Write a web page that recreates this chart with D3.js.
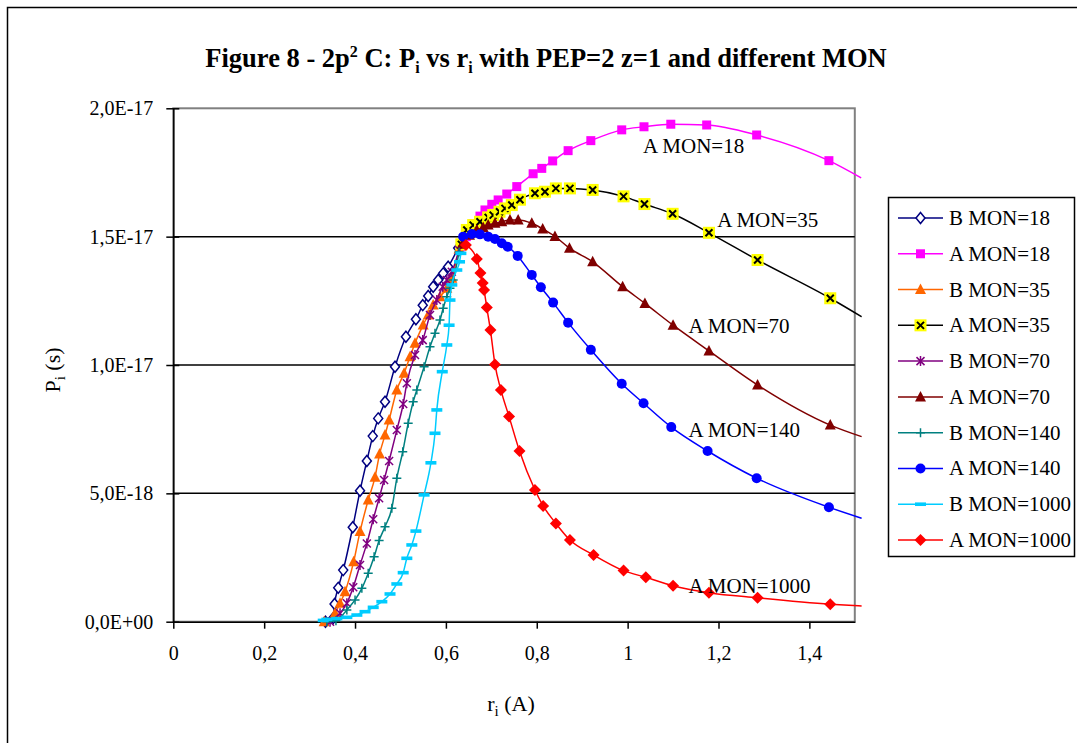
<!DOCTYPE html>
<html>
<head>
<meta charset="utf-8">
<script src="https://cdn.jsdelivr.net/npm/d3@7"></script>
<style>
  body { margin: 0; background: #fff; }
  svg { display: block; font-family: "Liberation Serif", "Times New Roman", serif; }
</style>
</head>
<body>
<svg id="chart" width="1077" height="743"></svg>
<script>
// values of P are stored in units of 1E-17 s
const UNIT = 1e-17;

const xTicks = [0, 0.2, 0.4, 0.6, 0.8, 1, 1.2, 1.4];
const yTicks = [0, 0.5, 1, 1.5, 2];

const bMon18 = [[0.335,0],[0.352,0.014],[0.355,0.069],[0.363,0.132],[0.374,0.201],[0.395,0.368],[0.411,0.510],[0.426,0.626],[0.439,0.723],[0.451,0.792],[0.466,0.857],[0.488,0.993],[0.512,1.110],[0.534,1.178],[0.549,1.233],[0.561,1.269],[0.572,1.305],[0.583,1.331],[0.594,1.357],[0.605,1.383],[0.627,1.456]];
const aMon18 = [[0.632,1.46],[0.645,1.50],[0.660,1.55],[0.675,1.580],[0.686,1.604],[0.701,1.626],[0.715,1.643],[0.734,1.666],[0.756,1.695],[0.792,1.745],[0.811,1.766],[0.835,1.795],[0.869,1.835],[0.919,1.874],[0.987,1.916],[1.036,1.928],[1.095,1.938],[1.174,1.935],[1.284,1.896],[1.443,1.796],[1.514,1.729]];
const bMon35 = [[0.332,0],[0.356,0.033],[0.367,0.072],[0.378,0.117],[0.397,0.234],[0.411,0.351],[0.429,0.474],[0.444,0.563],[0.454,0.653],[0.466,0.727],[0.475,0.786],[0.492,0.903],[0.508,0.968],[0.521,1.032],[0.532,1.085],[0.550,1.156],[0.561,1.195],[0.572,1.234],[0.587,1.266],[0.602,1.299],[0.613,1.338],[0.629,1.452]];
const aMon35 = [[0.634,1.47],[0.646,1.526],[0.660,1.545],[0.675,1.558],[0.693,1.575],[0.704,1.584],[0.718,1.597],[0.730,1.610],[0.745,1.623],[0.763,1.644],[0.796,1.669],[0.818,1.675],[0.842,1.688],[0.873,1.688],[0.923,1.682],[0.991,1.657],[1.037,1.627],[1.099,1.589],[1.179,1.515],[1.286,1.409],[1.446,1.260],[1.515,1.188]];
const bMon70 = [[0.345,0],[0.367,0.033],[0.382,0.072],[0.396,0.134],[0.411,0.221],[0.426,0.305],[0.440,0.399],[0.453,0.481],[0.464,0.552],[0.475,0.626],[0.492,0.747],[0.506,0.848],[0.514,0.929],[0.532,1.039],[0.549,1.097],[0.565,1.195],[0.580,1.253],[0.593,1.305],[0.602,1.331],[0.613,1.363],[0.629,1.448]];
const aMon70 = [[0.636,1.47],[0.652,1.505],[0.668,1.526],[0.682,1.536],[0.693,1.545],[0.708,1.552],[0.723,1.558],[0.741,1.565],[0.759,1.565],[0.789,1.552],[0.813,1.530],[0.840,1.501],[0.872,1.455],[0.923,1.402],[0.989,1.305],[1.038,1.240],[1.100,1.155],[1.179,1.055],[1.286,0.922],[1.446,0.766],[1.515,0.721]];
const bMon140 = [[0.338,0],[0.358,0.004],[0.382,0.046],[0.400,0.085],[0.415,0.130],[0.429,0.189],[0.442,0.253],[0.453,0.316],[0.466,0.370],[0.481,0.442],[0.492,0.559],[0.505,0.662],[0.517,0.773],[0.528,0.857],[0.536,0.903],[0.552,0.993],[0.565,1.071],[0.576,1.124],[0.587,1.175],[0.594,1.221],[0.602,1.266],[0.609,1.299],[0.616,1.331],[0.629,1.440]];
const aMon140 = [[0.638,1.500],[0.657,1.510],[0.675,1.509],[0.693,1.500],[0.708,1.491],[0.723,1.474],[0.736,1.461],[0.758,1.425],[0.789,1.351],[0.809,1.303],[0.836,1.243],[0.869,1.165],[0.919,1.059],[0.987,0.927],[1.035,0.851],[1.096,0.758],[1.176,0.665],[1.284,0.559],[1.443,0.446],[1.515,0.403]];
const bMon1000 = [[0.330,0.005],[0.338,0.009],[0.360,0.012],[0.382,0.017],[0.404,0.026],[0.422,0.039],[0.440,0.056],[0.459,0.078],[0.477,0.108],[0.492,0.147],[0.506,0.191],[0.514,0.247],[0.525,0.299],[0.534,0.353],[0.552,0.494],[0.567,0.619],[0.576,0.734],[0.580,0.825],[0.592,0.974],[0.602,1.078],[0.607,1.155],[0.609,1.253],[0.613,1.312],[0.624,1.370],[0.630,1.402],[0.633,1.435]];
const aMon1000 = [[0.644,1.467],[0.668,1.413],[0.676,1.358],[0.681,1.319],[0.684,1.292],[0.690,1.224],[0.698,1.136],[0.708,1.002],[0.721,0.903],[0.739,0.799],[0.762,0.665],[0.796,0.513],[0.814,0.451],[0.842,0.383],[0.873,0.318],[0.925,0.260],[0.991,0.199],[1.040,0.173],[1.100,0.140],[1.179,0.113],[1.286,0.093],[1.446,0.068],[1.515,0.061]];

// curve labels placed inside the plot (data coordinates)
const curveLabels = [
  ["A MON=18", 1.034, 1.826],
  ["A MON=35", 1.197, 1.536],
  ["A MON=70", 1.134, 1.124],
  ["A MON=140", 1.134, 0.721],
  ["A MON=1000", 1.134, 0.111]
];

const series = [
  { name: "B MON=18",   data: bMon18,   line: "#000080", marker: "diamondOpen", color: "#000080" },
  { name: "A MON=18",   data: aMon18,   line: "#ff00ff", marker: "square",      color: "#ff00ff" },
  { name: "B MON=35",   data: bMon35,   line: "#ff6600", marker: "triangle",    color: "#ff6600" },
  { name: "A MON=35",   data: aMon35,   line: "#000000", marker: "yellowX",     color: "#000000" },
  { name: "B MON=70",   data: bMon70,   line: "#800080", marker: "asterisk",    color: "#800080" },
  { name: "A MON=70",   data: aMon70,   line: "#800000", marker: "triangle",    color: "#800000" },
  { name: "B MON=140",  data: bMon140,  line: "#008080", marker: "plus",        color: "#008080" },
  { name: "A MON=140",  data: aMon140,  line: "#0000ff", marker: "circle",      color: "#0000ff" },
  { name: "B MON=1000", data: bMon1000, line: "#00ccff", marker: "dash",        color: "#00ccff" },
  { name: "A MON=1000", data: aMon1000, line: "#ff0000", marker: "diamond",     color: "#ff0000" }
];

const svg = d3.select("#chart");
const plot = { left: 173.3, right: 854.8, top: 108.3, bottom: 621.7 };

const x = d3.scaleLinear().domain([0, 1.5]).range([plot.left, plot.right]);
const y = d3.scaleLinear().domain([0, 2 * UNIT]).range([plot.bottom, plot.top]);

// outer chart border
svg.append("rect")
  .attr("x", 7.5).attr("y", 7.5).attr("width", 1100).attr("height", 800)
  .attr("fill", "#fff").attr("stroke", "#000").attr("stroke-width", 1.5);

// title
const title = svg.append("text")
  .attr("x", 546).attr("y", 67)
  .attr("text-anchor", "middle")
  .attr("font-size", 26.5).attr("font-weight", "bold");
title.append("tspan").text("Figure 8 - 2p");
title.append("tspan").attr("dy", -10).attr("font-size", 16).text("2");
title.append("tspan").attr("dy", 10).text(" C: P");
title.append("tspan").attr("dy", 6).attr("font-size", 16).text("i");
title.append("tspan").attr("dy", -6).text(" vs r");
title.append("tspan").attr("dy", 6).attr("font-size", 16).text("i");
title.append("tspan").attr("dy", -6).text(" with PEP=2 z=1 and different MON");

// plot area frame (gray top / right)
svg.append("rect")
  .attr("x", plot.left).attr("y", plot.top)
  .attr("width", plot.right - plot.left).attr("height", plot.bottom - plot.top)
  .attr("fill", "#fff").attr("stroke", "#808080").attr("stroke-width", 2);

// gridlines
svg.append("g")
  .selectAll("line")
  .data(yTicks.filter(d => d > 0 && d < 2))
  .join("line")
  .attr("x1", plot.left).attr("x2", plot.right)
  .attr("y1", d => y(d * UNIT)).attr("y2", d => y(d * UNIT))
  .attr("stroke", "#000").attr("stroke-width", 1.5);

const fmtY = v => {
  if (v === 0) return "0,0E+00";
  const [m, e] = d3.format(".1e")(v).split("e");
  const sign = e[0];
  const digits = e.slice(1).padStart(2, "0");
  return m.replace(".", ",") + "E" + sign + digits;
};
const fmtX = v => d3.format("~g")(v).replace(".", ",");

// y axis
const yAxis = d3.axisLeft(y)
  .tickValues(yTicks.map(d => d * UNIT))
  .tickFormat(fmtY)
  .tickSizeInner(7).tickSizeOuter(0).tickPadding(13);
const gy = svg.append("g").attr("transform", `translate(${plot.left},0)`).call(yAxis);
gy.selectAll("text").attr("font-size", 20).attr("font-family", "Liberation Serif, serif").attr("fill", "#000");
gy.select(".domain").attr("stroke-width", 1.5);
gy.selectAll(".tick line").attr("x2", -7).attr("x1", 6).attr("stroke-width", 1.5);

// x axis
const xAxis = d3.axisBottom(x)
  .tickValues(xTicks)
  .tickFormat(fmtX)
  .tickSizeInner(7).tickSizeOuter(0).tickPadding(17);
const gx = svg.append("g").attr("transform", `translate(0,${plot.bottom})`).call(xAxis);
gx.selectAll("text").attr("font-size", 20).attr("font-family", "Liberation Serif, serif").attr("fill", "#000");
gx.select(".domain").attr("stroke-width", 1.5);
gx.selectAll(".tick line").attr("stroke-width", 1.5);

// axis titles
const yTitle = svg.append("text")
  .attr("transform", "translate(60,370) rotate(-90)")
  .attr("text-anchor", "middle").attr("font-size", 22);
yTitle.append("tspan").text("P");
yTitle.append("tspan").attr("dy", 5).attr("font-size", 15).text("i");
yTitle.append("tspan").attr("dy", -5).text(" (s)");

const xTitle = svg.append("text")
  .attr("x", 511).attr("y", 711)
  .attr("text-anchor", "middle").attr("font-size", 22);
xTitle.append("tspan").text("r");
xTitle.append("tspan").attr("dy", 5).attr("font-size", 15).text("i");
xTitle.append("tspan").attr("dy", -5).text(" (A)");

// marker painter
function drawMarker(g, type, color) {
  switch (type) {
    case "diamondOpen":
      g.append("path").attr("d", "M0,-5.5L4.5,0L0,5.5L-4.5,0Z")
        .attr("fill", "#fff").attr("stroke", color).attr("stroke-width", 1.5);
      break;
    case "square":
      g.append("rect").attr("x", -4.5).attr("y", -4.5).attr("width", 9).attr("height", 9).attr("fill", color);
      break;
    case "triangle":
      g.append("path").attr("d", "M0,-6L5.5,4.5L-5.5,4.5Z").attr("fill", color);
      break;
    case "yellowX":
      g.append("rect").attr("x", -6).attr("y", -6).attr("width", 12).attr("height", 12).attr("fill", "#ffff00");
      g.append("path").attr("d", "M-3.5,-3.5L3.5,3.5M3.5,-3.5L-3.5,3.5")
        .attr("stroke", "#000").attr("stroke-width", 2);
      break;
    case "asterisk":
      g.append("path").attr("d", "M-4,-4L4,4M4,-4L-4,4M0,-5L0,5")
        .attr("stroke", color).attr("stroke-width", 1.5);
      break;
    case "plus":
      g.append("path").attr("d", "M-4.5,0L4.5,0M0,-4.5L0,4.5")
        .attr("stroke", color).attr("stroke-width", 1.5);
      break;
    case "circle":
      g.append("circle").attr("r", 5).attr("fill", color);
      break;
    case "dash":
      g.append("rect").attr("x", -5.5).attr("y", -1.8).attr("width", 11).attr("height", 3.6).attr("fill", color);
      break;
    case "diamond":
      g.append("path").attr("d", "M0,-6L6,0L0,6L-6,0Z").attr("fill", color);
      break;
  }
}

const line = d3.line()
  .x(d => x(d[0]))
  .y(d => y(d[1] * UNIT))
  .curve(d3.curveMonotoneX);

// series, drawn in Excel order (last on top)
const gSeries = svg.append("g");
series.forEach(s => {
  const g = gSeries.append("g");
  g.append("path")
    .datum(s.data)
    .attr("fill", "none")
    .attr("stroke", s.line)
    .attr("stroke-width", 1.5)
    .attr("d", line);
  g.selectAll("g.pt")
    .data(s.data.filter(d => d[0] <= 1.5))
    .join("g")
    .attr("class", "pt")
    .attr("transform", d => `translate(${x(d[0])},${y(d[1] * UNIT)})`)
    .each(function () { drawMarker(d3.select(this), s.marker, s.color); });
});

// curve labels
svg.append("g")
  .selectAll("text")
  .data(curveLabels)
  .join("text")
  .attr("x", d => x(d[1]))
  .attr("y", d => y(d[2] * UNIT))
  .attr("font-size", 21)
  .text(d => d[0]);

// legend
const legend = svg.append("g");
legend.append("rect")
  .attr("x", 888.5).attr("y", 197.5).attr("width", 186).attr("height", 359)
  .attr("fill", "#fff").attr("stroke", "#000").attr("stroke-width", 1.5);
const ly = d3.scalePoint().domain(series.map(s => s.name)).range([218, 540]);
series.forEach(s => {
  const g = legend.append("g").attr("transform", `translate(0,${ly(s.name)})`);
  g.append("line").attr("x1", 898).attr("x2", 943)
    .attr("stroke", s.line).attr("stroke-width", 1.5);
  const m = g.append("g").attr("transform", "translate(920.5,0)");
  drawMarker(m, s.marker, s.color);
  g.append("text").attr("x", 949).attr("y", 7).attr("font-size", 21).text(s.name);
});
</script>
</body>
</html>
